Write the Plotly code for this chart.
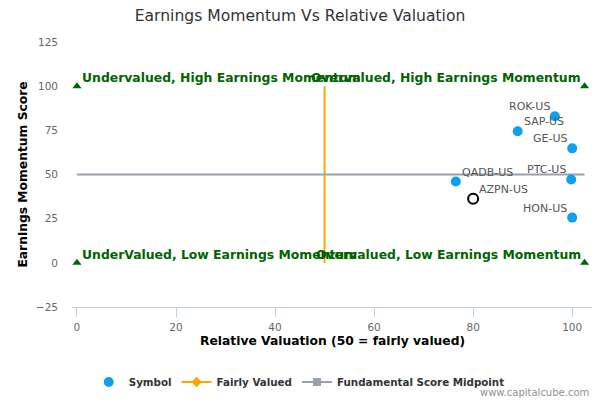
import plotly.graph_objects as go

# Company scores
symbols = ["ROK-US", "SAP-US", "GE-US", "PTC-US", "QADB-US", "HON-US"]
valuation = [96.5, 89.0, 100.0, 99.8, 76.5, 100.0]
momentum = [83.0, 74.5, 64.8, 47.2, 46.0, 25.6]

# The highlighted company (hollow marker)
focus_symbol = "AZPN-US"
focus_valuation = 80.0
focus_momentum = 36.3

# Quadrant corners and their captions
corner_x = [0, 102.5, 0, 102.5]
corner_y = [100, 100, 0, 0]
corner_labels = [
    "Undervalued, High Earnings Momentum",
    "Overvalued, High Earnings Momentum",
    "UnderValued, Low Earnings Momentum",
    "Overvalued, Low Earnings Momentum",
]

# Reference lines
fair_x = [50, 50]
fair_y = [0, 100]
mid_x = [0, 102.5]
mid_y = [50, 50]

y_ticks = [-25, 0, 25, 50, 75, 100, 125]
x_ticks = [0, 20, 40, 60, 80, 100]

FONT = "DejaVu Sans"
GREEN = "#006400"
BLUE = "#0DA0EE"
ORANGE = "#FFA500"
GREY = "#9AA0AD"
LABEL_FONT = dict(family=FONT, size=11, color="#555555")

# which side of the point each label sits on (peers, then focus)
label_side = ["left", "right", "left", "left", "right", "left"]
focus_side = "right"

fig = go.Figure()

# reference lines (drawn, no legend)
fig.add_trace(go.Scatter(x=fair_x, y=fair_y, mode="lines",
                         line=dict(color=ORANGE, width=2), showlegend=False, hoverinfo="skip"))
fig.add_trace(go.Scatter(x=mid_x, y=mid_y, mode="lines",
                         line=dict(color=GREY, width=2), showlegend=False, hoverinfo="skip"))

# quadrant corner markers
fig.add_trace(go.Scatter(x=corner_x, y=corner_y, mode="markers",
                         marker=dict(symbol="triangle-up", size=8, color=GREEN),
                         showlegend=False, hoverinfo="skip"))

# peers
fig.add_trace(go.Scatter(x=valuation, y=momentum, mode="markers", name="Symbol",
                         marker=dict(size=10, color=BLUE)))

# focus company
fig.add_trace(go.Scatter(
    x=[focus_valuation], y=[focus_momentum], mode="markers",
    marker=dict(size=10, color="rgba(0,0,0,0)", line=dict(color="black", width=2)),
    showlegend=False,
))

# legend-only entries for the lines
fig.add_trace(go.Scatter(x=[None], y=[None], mode="lines+markers", name="Fairly Valued",
                         line=dict(color=ORANGE, width=2),
                         marker=dict(symbol="diamond", size=8, color=ORANGE)))
fig.add_trace(go.Scatter(x=[None], y=[None], mode="lines+markers", name="Fundamental Score Midpoint",
                         line=dict(color=GREY, width=2),
                         marker=dict(symbol="square", size=8, color=GREY)))

annotations = []

# point labels
for sx, sy, name, side in zip(valuation + [focus_valuation], momentum + [focus_momentum],
                              symbols + [focus_symbol], label_side + [focus_side]):
    annotations.append(dict(
        x=sx, y=sy, xref="x", yref="y", text=name, showarrow=False,
        xanchor="right" if side == "left" else "left", yanchor="bottom",
        xshift=-3 if side == "left" else 4, yshift=1, font=LABEL_FONT,
    ))

# quadrant captions
for cx, cy, lab in zip(corner_x, corner_y, corner_labels):
    left = cx == 0
    annotations.append(dict(
        x=cx, y=cy, xref="x", yref="y", text="<b>%s</b>" % lab, showarrow=False,
        xanchor="left" if left else "right", yanchor="bottom",
        xshift=3 if left else -2, yshift=-1,
        font=dict(family=FONT, size=12.4, color=GREEN),
    ))

annotations += [
    dict(x=0.5, y=-0.128, xref="paper", yref="paper", showarrow=False,
         text="<b>Relative Valuation (50 = fairly valued)</b>",
         font=dict(family=FONT, size=12.3, color="#000000"), yanchor="middle"),
    dict(x=-0.096, y=0.5, xref="paper", yref="paper", showarrow=False, textangle=-90,
         text="<b>Earnings Momentum Score</b>",
         font=dict(family=FONT, size=12.3, color="#000000"), xanchor="center"),
    dict(x=0.998, y=-0.321, xref="paper", yref="paper", showarrow=False,
         text="www.capitalcube.com", xanchor="right", yanchor="middle",
         font=dict(family=FONT, size=10, color="#909090")),
]

fig.update_layout(
    width=600, height=400,
    margin=dict(l=72, r=8, t=42, b=93, autoexpand=False),
    paper_bgcolor="white", plot_bgcolor="white",
    font=dict(family=FONT, color="#666666"),
    title=dict(text="Earnings Momentum Vs Relative Valuation", x=0.5, xref="container",
               y=0.96, yanchor="middle",
               font=dict(family=FONT, size=15.6, color="#333333")),
    xaxis=dict(range=[-1, 104], tickvals=x_ticks, showgrid=False, zeroline=False,
               showline=True, linecolor="#C0D0E0", linewidth=1, automargin=False,
               ticks="outside", ticklen=9, tickcolor="#C0D0E0", ticklabelstandoff=1,
               tickfont=dict(family=FONT, size=10.5, color="#666666")),
    yaxis=dict(range=[-25, 125], tickvals=y_ticks, showgrid=False, zeroline=False,
               showline=False, ticks="", ticklabelstandoff=13, automargin=False,
               tickfont=dict(family=FONT, size=10.5, color="#666666")),
    legend=dict(orientation="h", x=0.437, xanchor="center", y=-0.283, yanchor="middle",
                font=dict(family=FONT, size=10.3, color="#333333", weight="bold"),
                itemwidth=30),
    annotations=annotations,
    hovermode=False,
)

# the page body has a default 8px margin; drop it so the chart sits at the corner
fig.write_html("out.html", config={"displayModeBar": False},
               post_script="document.body.style.margin='0';")
